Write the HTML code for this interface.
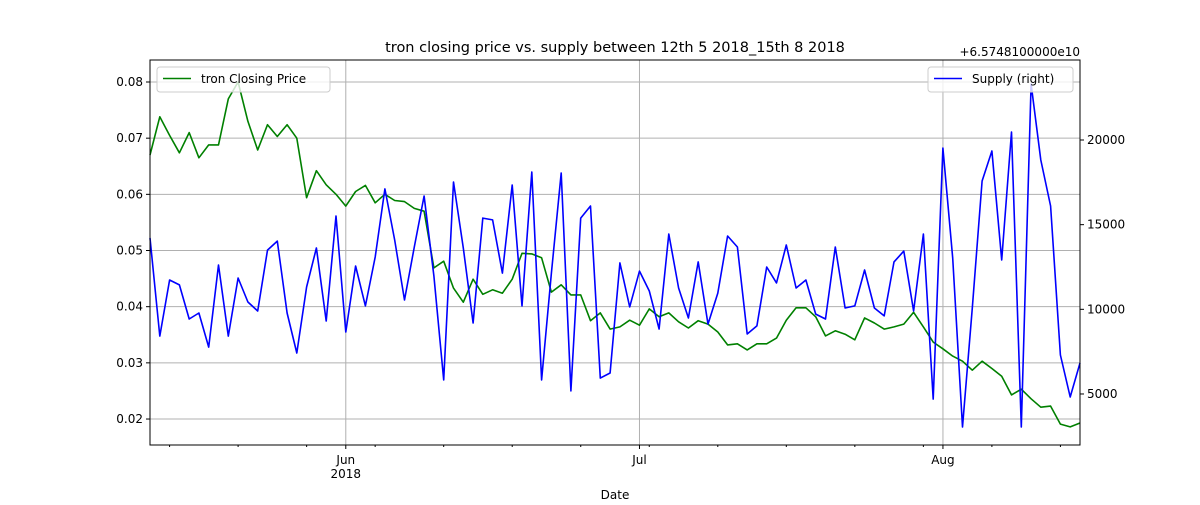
<!DOCTYPE html>
<html><head><meta charset="utf-8"><style>
body{margin:0;background:#fff;}
svg{font-family:"DejaVu Sans","Liberation Sans",sans-serif;}
</style></head><body>
<svg id="chart" width="1200" height="500">
<rect width="1200" height="500" fill="#fff"/>
<g id="grid"></g><g id="series"></g><g id="axes"></g>
</svg>
<script>
const priceValues=[0.067,0.0738,0.0705,0.0674,0.071,0.0665,0.0688,0.0688,0.077,0.080,0.073,0.0679,0.0724,0.0703,0.0724,0.070,0.0594,0.0642,0.0617,0.060,0.0579,0.0605,0.0616,0.0585,0.060,0.0589,0.0587,0.0575,0.057,0.0469,0.0481,0.0433,0.0408,0.0449,0.0422,0.043,0.0424,0.0449,0.0495,0.0494,0.0487,0.0426,0.0439,0.0421,0.0421,0.0375,0.0389,0.036,0.0364,0.0376,0.0367,0.0396,0.0382,0.0389,0.0373,0.0362,0.0375,0.0369,0.0355,0.0332,0.0334,0.0323,0.0334,0.0334,0.0344,0.0376,0.0398,0.0398,0.0382,0.0348,0.0357,0.0351,0.0341,0.038,0.0371,0.036,0.0364,0.0369,0.039,0.0364,0.0337,0.0325,0.0312,0.0303,0.0287,0.0303,0.029,0.0276,0.0243,0.0253,0.0236,0.0221,0.0223,0.0191,0.0186,0.0193];
const supplyValues=[14210,8420,11730,11440,9430,9780,7770,12620,8420,11850,10430,9900,13500,14030,9780,7420,11320,13620,9310,15510,8660,12560,10200,13090,17110,14090,10550,13680,16690,11970,5830,17520,13620,9190,15390,15280,12140,17340,10200,18110,5830,12140,18050,5180,15390,16100,5940,6240,12740,10140,12260,11080,8840,14450,11260,9490,12800,9130,10960,14330,13680,8540,9020,12500,11560,13800,11260,11730,9720,9430,13680,10080,10200,12320,10080,9610,12800,13440,9900,14450,4700,19530,13030,3050,10080,17580,19350,12910,20470,3050,23310,18820,16100,7300,4820,6830];
const leftTicks=[0.02,0.03,0.04,0.05,0.06,0.07,0.08];
const rightTicks=[5000,10000,15000,20000];
const monthTicks=[{day:20,label:"Jun",sub:"2018"},{day:50,label:"Jul",sub:""},{day:81,label:"Aug",sub:""}];
const L=150,R=1080,T=60,B=445;
const nDays=95;
const xs=i=>L+(R-L)*i/nDays;
const yL=v=>82+(0.08-v)*5617;
const yR=v=>140+(20000-v)/59.06;
const NS="http://www.w3.org/2000/svg";
function mk(parent,tag,attrs,text){const e=document.createElementNS(NS,tag);for(const k in attrs)e.setAttribute(k,attrs[k]);if(text!==undefined)e.textContent=text;document.getElementById(parent).appendChild(e);return e;}
// grid
leftTicks.forEach(v=>{const e=mk("grid","line",{x1:L,x2:R,y1:yL(v),y2:yL(v),stroke:"#b0b0b0","stroke-width":1});

});
monthTicks.forEach(m=>{const e=mk("grid","line",{x1:xs(m.day),x2:xs(m.day),y1:T,y2:B,stroke:"#b0b0b0","stroke-width":1});

});
// series
const pPts=priceValues.map((v,i)=>xs(i).toFixed(1)+","+yL(v).toFixed(1)).join(" ");
const pl=mk("series","polyline",{points:pPts,fill:"none",stroke:"green","stroke-width":1.6,"stroke-linejoin":"round"});


const sPts=supplyValues.map((v,i)=>xs(i).toFixed(1)+","+yR(v).toFixed(1)).join(" ");
const sl=mk("series","polyline",{points:sPts,fill:"none",stroke:"blue","stroke-width":1.6,"stroke-linejoin":"round"});


// frame
const fr=mk("axes","rect",{x:L,y:T,width:R-L,height:B-T,fill:"none",stroke:"#000","stroke-width":1});


// left ticks
leftTicks.forEach(v=>{const y=yL(v);mk("axes","line",{x1:L-4,x2:L,y1:y,y2:y,stroke:"#000"});
const t=mk("axes","text",{x:L-7,y:y+4,"text-anchor":"end","font-size":12},v.toFixed(2));

});
// right ticks
rightTicks.forEach(v=>{const y=yR(v);mk("axes","line",{x1:R,x2:R+4,y1:y,y2:y,stroke:"#000"});
const t=mk("axes","text",{x:R+7,y:y+4,"font-size":12},String(v));

});
// minor ticks weekly from day 2
for(let d=2;d<=nDays;d+=7){mk("axes","line",{x1:xs(d),x2:xs(d),y1:B,y2:B+2,stroke:"#000"});}
monthTicks.forEach(m=>{const x=xs(m.day);mk("axes","line",{x1:x,x2:x,y1:B,y2:B+4,stroke:"#000"});
const t=mk("axes","text",{x:x,y:B+19,"text-anchor":"middle","font-size":12},m.label);


if(m.sub){const s=mk("axes","text",{x:x,y:B+33,"text-anchor":"middle","font-size":12},m.sub);

}});
</script>
<svg width="1200" height="500" style="position:absolute;left:0;top:0">
<text x="615" y="52" text-anchor="middle" font-size="14.5" font-family="DejaVu Sans,Liberation Sans,sans-serif">tron closing price vs. supply between 12th 5 2018_15th 8 2018</text>
<text x="1080" y="56" text-anchor="end" font-size="12" font-family="DejaVu Sans,Liberation Sans,sans-serif">+6.5748100000e10</text>
<text x="615" y="499" text-anchor="middle" font-size="12" font-family="DejaVu Sans,Liberation Sans,sans-serif">Date</text>
<g>
<rect x="157" y="67" width="173" height="25" rx="3" fill="#fff" fill-opacity="0.8" stroke="#ccc"/>
<line x1="163" y1="78.5" x2="191" y2="78.5" stroke="green" stroke-width="1.6"/>
<text x="201" y="83" font-size="12" font-family="DejaVu Sans,Liberation Sans,sans-serif">tron Closing Price</text>
</g>
<g>
<rect x="928" y="67" width="145" height="25" rx="3" fill="#fff" fill-opacity="0.8" stroke="#ccc"/>
<line x1="934" y1="78.5" x2="962" y2="78.5" stroke="blue" stroke-width="1.6"/>
<text x="972" y="83" font-size="12" font-family="DejaVu Sans,Liberation Sans,sans-serif">Supply (right)</text>
</g>
</svg>
</body></html>
